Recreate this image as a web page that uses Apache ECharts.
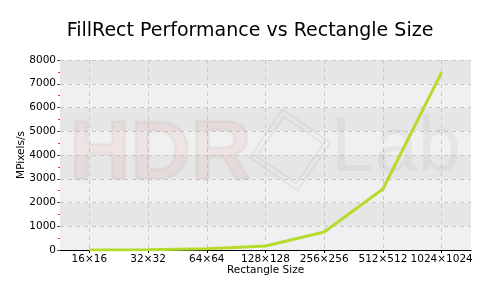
<!DOCTYPE html>
<html>
<head>
<meta charset="utf-8">
<script src="https://cdn.jsdelivr.net/npm/echarts@6/dist/echarts.min.js"></script>
<style>html,body{margin:0;padding:0;background:#fff}#c{width:500px;height:300px}</style>
</head>
<body>
<div id="c"></div>
<script>
var categories = ['16×16', '32×32', '64×64', '128×128', '256×256', '512×512', '1024×1024'];
var mpixels = [5, 15, 50, 170, 760, 2570, 7480];
var yTicks = { min: 0, max: 8000, interval: 1000 };

var chart = echarts.init(document.getElementById('c'), null, { renderer: 'canvas' });
var font = 'DejaVu Sans';
chart.setOption({
  animation: false,
  backgroundColor: '#ffffff',
  title: {
    text: 'FillRect Performance vs Rectangle Size',
    left: 'center', top: 17,
    textStyle: { fontFamily: font, fontSize: 19, fontWeight: 'normal', color: '#000' }
  },
  grid: { left: 60, right: 29, top: 60, bottom: 50 },
  graphic: [
    { type: 'text', z: 1, left: 68, top: 112,
      style: { text: 'HDR', font: 'bold 84px "Liberation Sans"', fill: 'rgba(225,110,110,0.09)', stroke: 'rgba(140,140,140,0.09)', lineWidth: 3 } },
    { type: 'text', z: 1, left: 331, top: 110,
      style: { text: 'Lab', font: '78px "Liberation Sans"', fill: 'rgba(140,140,140,0.1)' } },
    { type: 'rect', z: 1, x: 290, y: 150, rotation: -0.6,
      shape: { x: -29, y: -29, width: 58, height: 58 },
      style: { fill: 'none', stroke: 'rgba(140,140,140,0.13)', lineWidth: 2 } },
    { type: 'rect', z: 1, x: 290, y: 150, rotation: -0.6,
      shape: { x: -24, y: -24, width: 48, height: 48 },
      style: { fill: 'none', stroke: 'rgba(140,140,140,0.13)', lineWidth: 2 } }
  ],
  xAxis: {
    type: 'category',
    data: categories,
    boundaryGap: true,
    name: 'Rectangle Size',
    nameLocation: 'middle',
    nameGap: 15,
    nameMoveOverlap: false,
    nameTextStyle: { fontFamily: font, fontSize: 10.5, color: '#000', verticalAlign: 'top' },
    axisLine: { show: true, lineStyle: { color: '#000', width: 1 } },
    axisTick: { show: true, alignWithLabel: true, length: 3, lineStyle: { color: '#000' } },
    axisLabel: { fontFamily: font, fontSize: 10.5, color: '#000', margin: 4, interval: 0 },
    splitLine: { show: true, alignWithLabel: true, lineStyle: { color: '#c8c8c8', type: [4, 4], width: 1 } }
  },
  yAxis: {
    type: 'value',
    min: yTicks.min, max: yTicks.max, interval: yTicks.interval,
    name: 'MPixels/s',
    nameLocation: 'middle',
    nameGap: 33,
    nameMoveOverlap: false,
    nameTextStyle: { fontFamily: font, fontSize: 10.5, color: '#000' },
    axisLine: { show: false },
    axisTick: { show: true, length: 3, lineStyle: { color: '#555' } },
    minorTick: { show: true, splitNumber: 2, length: 2, lineStyle: { color: '#ff3030', width: 1 } },
    axisLabel: { fontFamily: font, fontSize: 10.5, color: '#000', margin: 4, formatter: function (v) { return String(v); } },
    splitLine: { show: true, lineStyle: { color: '#c8c8c8', type: [4, 4], width: 1 } },
    splitArea: { show: true, areaStyle: { color: ['#f0f0f0', '#e6e6e6'] } }
  },
  series: [{
    type: 'line',
    data: mpixels,
    z: 3,
    showSymbol: false,
    symbol: 'none',
    lineStyle: { color: '#b7db2d', width: 3 }
  }]
});
</script>
</body>
</html>
